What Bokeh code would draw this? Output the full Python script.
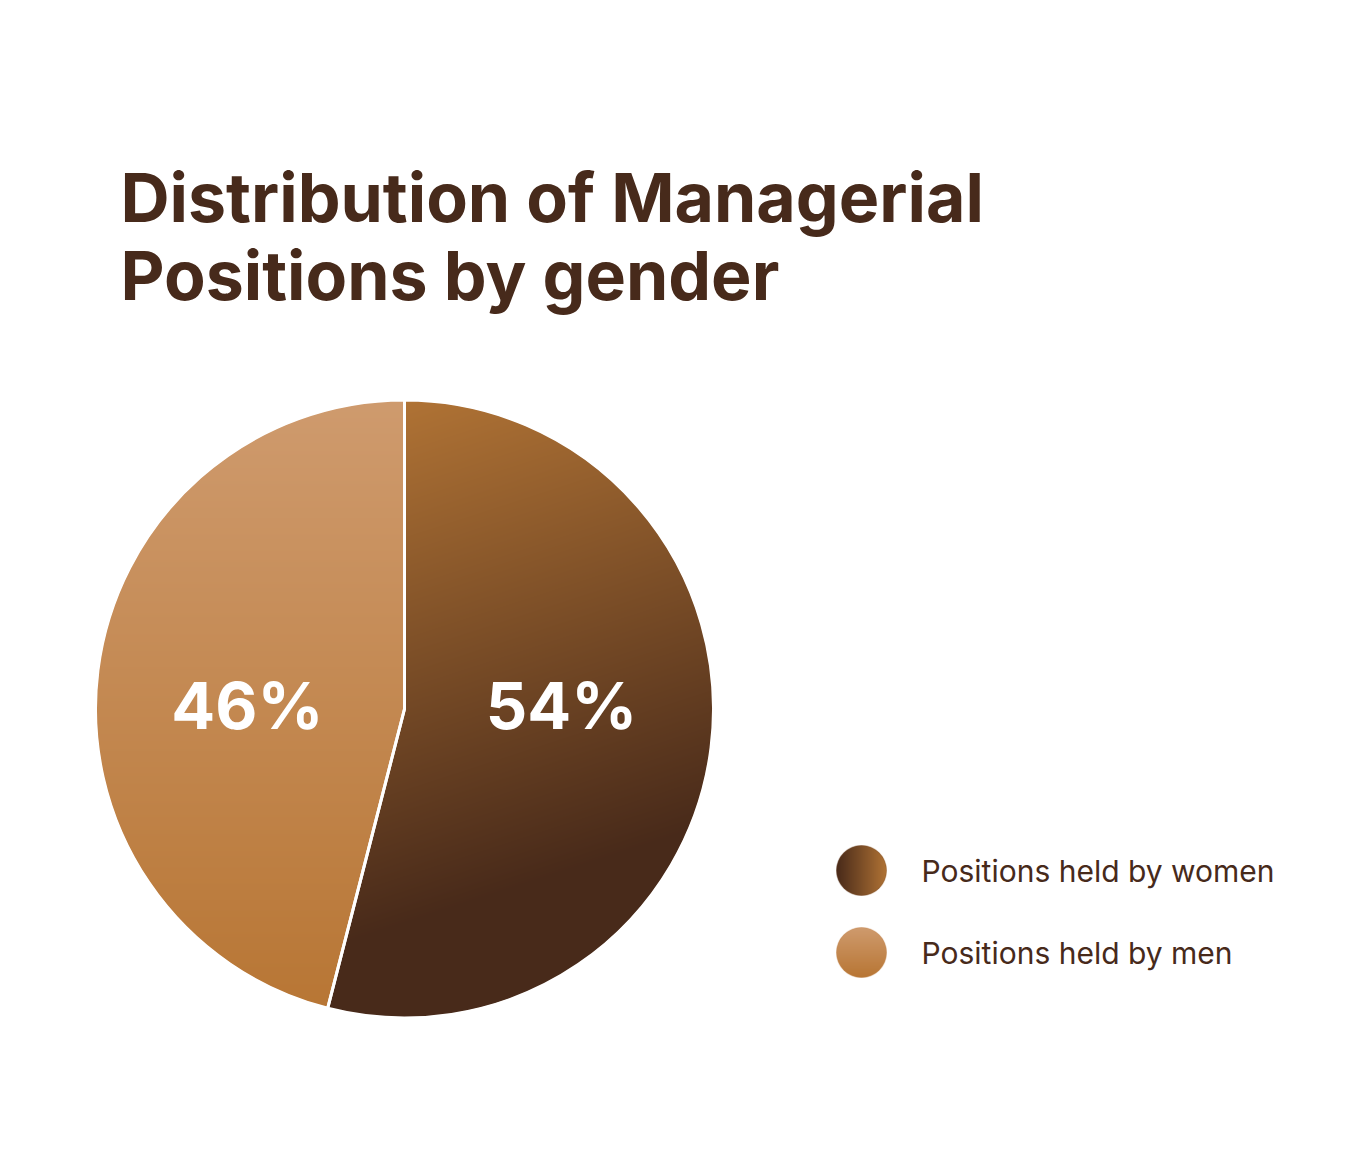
import numpy as np
from bokeh.plotting import figure
from bokeh.models import Range1d
from bokeh.core.properties import value
from bokeh.embed import file_html
from bokeh.resources import INLINE

# ---- data ----
categories = ["Positions held by women", "Positions held by men"]
shares = [54, 46]
pct_labels = ["54%", "46%"]
title_lines = ["Distribution of Managerial", "Positions by gender"]

# gradient colours (top/start -> bottom/end)
women_grad = [(176, 115, 53), (72, 42, 26)]
men_grad = [(207, 155, 110), (184, 118, 52)]
base_colors = ["#7a4a28", "#c38650"]
text_color = "#472a1b"

W, H = 1350, 1144
p = figure(width=W, height=H, output_backend="svg", toolbar_location=None,
           x_range=Range1d(0, W), y_range=Range1d(0, H), min_border=0)
p.axis.visible = False
p.grid.visible = False
p.outline_line_color = None
p.background_fill_color = "white"
p.border_fill_color = "white"

cx, cy, r = 404.0, 435.5, 308.0

# wedge angles: start at top, clockwise
total = float(sum(shares))
angs = []
cur = 90.0
for s in shares:
    span = s / total * 360.0
    angs.append((cur - span, cur))
    cur -= span
starts = [np.deg2rad(a[0]) for a in angs]
ends = [np.deg2rad(a[1]) for a in angs]

# base wedges
p.wedge(x=[cx] * 2, y=[cy] * 2, radius=r, start_angle=starts, end_angle=ends,
        fill_color=base_colors, line_color=None)

# gradient overlay image
N = int(2 * r + 4)
x0, y0 = cx - N / 2, cy - N / 2
xs = x0 + np.arange(N) + 0.5
ys = y0 + np.arange(N) + 0.5
X, Y = np.meshgrid(xs, ys)
dx, dy = X - cx, Y - cy
dist = np.hypot(dx, dy)
theta = np.degrees(np.arctan2(dy, dx))
alpha = np.clip(r - dist + 0.5, 0, 1)

def in_wedge(th, a0, a1):
    return ((th - a0) % 360.0) <= ((a1 - a0) % 360.0)

women_mask = in_wedge(theta, angs[0][0], angs[0][1])
sy = (cy + r) - Y
sx = X - cx
a = np.deg2rad(18)
tw = np.clip((sy * np.cos(a) + sx * np.sin(a)) / 500.0, 0, 1)
tm = np.clip(sy / (2 * r), 0, 1)
img = np.zeros((N, N, 4), dtype=np.uint8)
for k in range(3):
    cw = women_grad[0][k] + (women_grad[1][k] - women_grad[0][k]) * tw
    cm = men_grad[0][k] + (men_grad[1][k] - men_grad[0][k]) * tm
    img[..., k] = np.where(women_mask, cw, cm).astype(np.uint8)
img[..., 3] = (alpha * 255).astype(np.uint8)
img32 = img.view(dtype=np.uint32).reshape((N, N))
p.image_rgba(image=[img32], x=x0, y=y0, dw=N, dh=N)

# separators
p.wedge(x=[cx] * 2, y=[cy] * 2, radius=r + 1, start_angle=starts, end_angle=ends,
        fill_alpha=0, line_color="white", line_width=3)

# percent labels
lab_x = [cx + 0.51 * r, cx - 0.51 * r]
p.text(x=lab_x, y=[cy + 4] * 2, text=pct_labels, text_align="center", text_baseline="middle",
       text_color="white", text_font=value("Inter"), text_font_style="bold",
       text_font_size="65px")

# title
p.text(x=[120, 120], y=[948, 870], text=title_lines, text_align="left",
       text_baseline="alphabetic", text_color=text_color, text_font=value("Inter"),
       text_font_style="bold", text_font_size="68px")

# legend
lx, ly = [861, 861], [274, 192]
p.scatter(x=lx, y=ly, size=50, fill_color=base_colors, line_color=None)
M = 52
gx = np.arange(M) + 0.5 - M / 2
GX, GY = np.meshgrid(gx, gx)
ga = np.clip(25 - np.hypot(GX, GY) + 0.5, 0, 1)
for i, (grad, horiz) in enumerate([(women_grad, True), (men_grad, False)]):
    li = np.zeros((M, M, 4), dtype=np.uint8)
    for k in range(3):
        if horiz:
            t = np.clip((GX + 25) / 50, 0, 1)
            li[..., k] = (grad[1][k] + (grad[0][k] - grad[1][k]) * t).astype(np.uint8)
        else:
            t = np.clip((25 - GY) / 50, 0, 1)
            li[..., k] = (grad[0][k] + (grad[1][k] - grad[0][k]) * t).astype(np.uint8)
    li[..., 3] = (ga * 255).astype(np.uint8)
    p.image_rgba(image=[li.view(dtype=np.uint32).reshape((M, M))],
                 x=lx[i] - M / 2, y=ly[i] - M / 2, dw=M, dh=M)

p.text(x=[921, 921], y=ly, text=categories, text_align="left", text_baseline="middle",
       text_color=text_color, text_font=value("Inter"), text_font_size="30px")

open("out.html", "w").write(file_html(p, INLINE))
